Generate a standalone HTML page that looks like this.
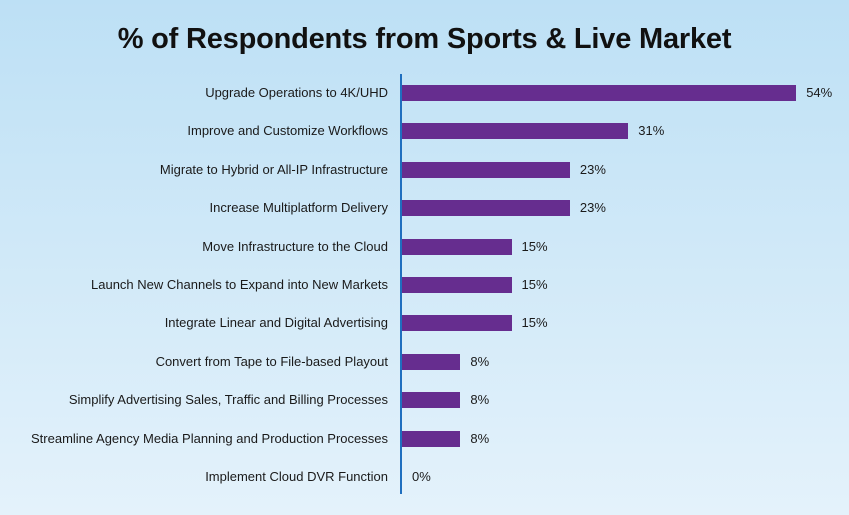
<!DOCTYPE html>
<html><head><meta charset="utf-8"><style>
body{margin:0;width:849px;height:515px;overflow:hidden;background:linear-gradient(#bde0f5,#e4f2fb);font-family:"Liberation Sans",sans-serif;color:#1a1a1a;position:relative}
h1{position:absolute;top:23px;left:0;width:849px;text-align:center;margin:0;font-size:29px;font-weight:bold;color:#111;letter-spacing:-0.2px}
.ax{position:absolute;left:400px;top:74px;width:2px;height:420px;background:#1f6fbf}
.l{position:absolute;right:461px;font-size:13px;white-space:nowrap;line-height:16px}
.b{position:absolute;left:402px;height:16px;background:#662d8f}
.v{position:absolute;font-size:13px;line-height:16px}
</style></head><body>
<h1>% of Respondents from Sports &amp; Live Market</h1>
<div class="ax"></div>
<div id="c"></div>
<script>
const d=[["Upgrade Operations to 4K/UHD",54],["Improve and Customize Workflows",31],["Migrate to Hybrid or All-IP Infrastructure",23],["Increase Multiplatform Delivery",23],["Move Infrastructure to the Cloud",15],["Launch New Channels to Expand into New Markets",15],["Integrate Linear and Digital Advertising",15],["Convert from Tape to File-based Playout",8],["Simplify Advertising Sales, Traffic and Billing Processes",8],["Streamline Agency Media Planning and Production Processes",8],["Implement Cloud DVR Function",0]];
let h="";d.forEach((r,i)=>{const t=85+i*38.4,w=r[1]*7.3;
h+=`<div class="l" style="top:${t}px">${r[0]}</div>`;
if(w)h+=`<div class="b" style="top:${t}px;width:${w}px"></div>`;
h+=`<div class="v" style="top:${t}px;left:${402+w+10}px">${r[1]}%</div>`;});
document.getElementById("c").innerHTML=h;
</script>
</body></html>
